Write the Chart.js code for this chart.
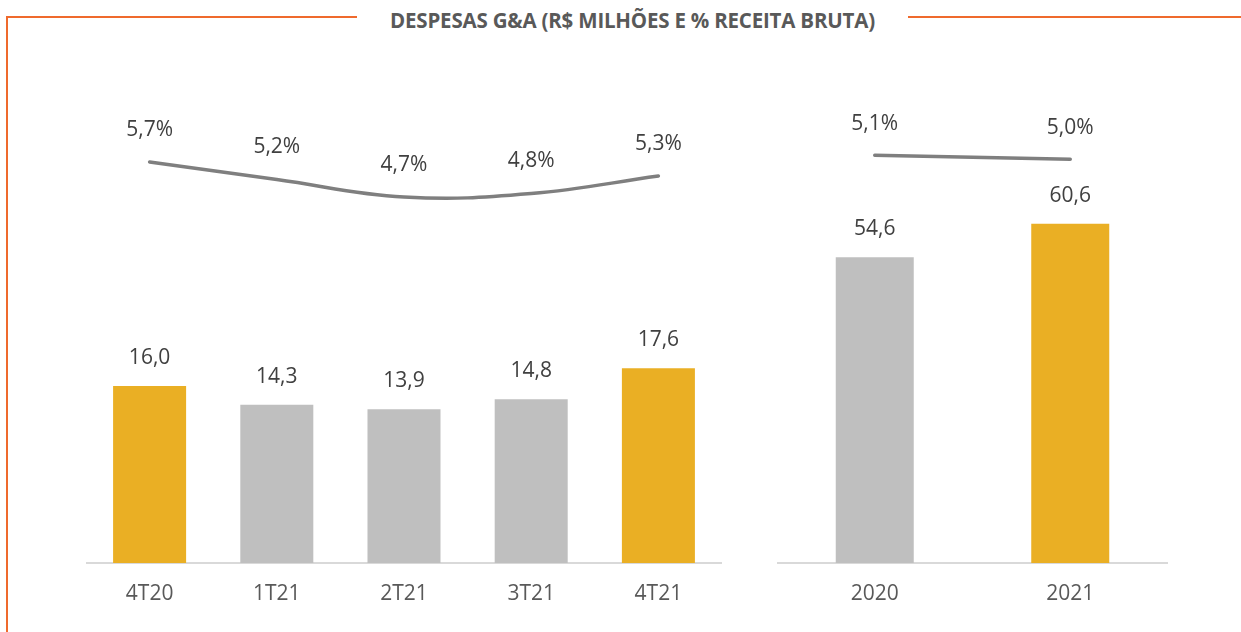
<!DOCTYPE html>
<html><head><meta charset="utf-8">
<script src="https://cdn.jsdelivr.net/npm/chart.js@4.4.1/dist/chart.umd.min.js"></script>
<style>
html,body{margin:0;padding:0;background:#fff;width:1241px;height:632px;overflow:hidden;font-family:'Open Sans',sans-serif}
.frame{position:absolute;background:#EF6A2D}
#title{position:absolute;left:357px;width:551px;top:8px;line-height:24px;text-align:center;font-weight:700;font-size:20.5px;color:#595959;white-space:nowrap;letter-spacing:-0.2px}
#c1{position:absolute;left:86px;top:0}
#c2{position:absolute;left:777px;top:0}
</style></head>
<body>
<div class="frame" style="left:6px;top:16px;width:351px;height:2px"></div>
<div class="frame" style="left:908px;top:16px;width:333px;height:2px"></div>
<div class="frame" style="left:6px;top:16px;width:2px;height:616px"></div>
<div id="title">DESPESAS G&amp;A (R$ MILHÕES E % RECEITA BRUTA)</div>
<canvas id="c1" width="636" height="632"></canvas>
<canvas id="c2" width="391" height="632"></canvas>
<script>
// ---- data ----
const quarterLabels = ['4T20', '1T21', '2T21', '3T21', '4T21'];
const quarterExpenses = [16.0, 14.3, 13.9, 14.8, 17.6];
const quarterPct = [5.7, 5.2, 4.7, 4.8, 5.3];
const quarterHighlight = [true, false, false, false, true];

const yearLabels = ['2020', '2021'];
const yearExpenses = [54.6, 60.6];
const yearPct = [5.1, 5.0];
const yearHighlight = [false, true];

// ---- styles ----
const GOLD = '#EAAF24';
const GREY = '#BFBFBF';
const LINE = '#7F7F7F';
const FONT = "'Open Sans', sans-serif";

const labelPlugin = {
  id: 'valueLabels',
  afterDatasetsDraw(chart) {
    const ctx = chart.ctx;
    ctx.save();
    ctx.font = '21px ' + FONT;
    ctx.fillStyle = '#404040';
    ctx.textAlign = 'center';
    ctx.textBaseline = 'middle';
    chart.data.datasets.forEach((ds, i) => {
      const meta = chart.getDatasetMeta(i);
      meta.data.forEach((el, j) => {
        const v = ds.data[j];
        const txt = v.toFixed(1).replace('.', ',') + (ds.isPct ? '%' : '');
        const off = ds.isPct ? ds.labelOffset : 28;
        ctx.fillText(txt, el.x, el.y - off);
      });
    });
    ctx.restore();
  }
};

function makeChart(id, labels, bars, pct, highlight, o) {
  return new Chart(document.getElementById(id), {
    type: 'bar',
    data: {
      labels: labels,
      datasets: [
        {
          type: 'line', data: pct, yAxisID: 'y2', isPct: true, labelOffset: o.pctOffset,
          borderColor: LINE, borderWidth: 3.5, tension: 0.4, pointRadius: 0,
          borderCapStyle: 'round', fill: false, order: 0
        },
        {
          type: 'bar', data: bars, yAxisID: 'y',
          backgroundColor: highlight.map(h => h ? GOLD : GREY),
          categoryPercentage: 1, barPercentage: o.barPct, order: 1
        }
      ]
    },
    options: {
      responsive: false, animation: false, devicePixelRatio: 1,
      layout: { padding: 0 },
      plugins: { legend: { display: false }, tooltip: { enabled: false }, title: { display: false } },
      scales: {
        x: {
          grid: { display: false, drawTicks: false },
          border: { display: true, color: '#D9D9D9', width: 2 },
          ticks: { font: { size: 21, family: FONT }, color: '#595959', padding: 18 },
          afterFit(s) { s.height = 69; }
        },
        y: { display: false, min: 0, max: o.yMax },
        y2: { display: false, min: o.y2Min, max: o.y2Max }
      }
    },
    plugins: [labelPlugin]
  });
}

makeChart('c1', quarterLabels, quarterExpenses, quarterPct, quarterHighlight,
  { barPct: 0.574, yMax: 50.86, y2Min: -5.757, y2Max: 10.329, pctOffset: 32 });
makeChart('c2', yearLabels, yearExpenses, yearPct, yearHighlight,
  { barPct: 0.399, yMax: 100.54, y2Min: -5.09, y2Max: 8.98, pctOffset: 31 });
</script>
</body></html>
